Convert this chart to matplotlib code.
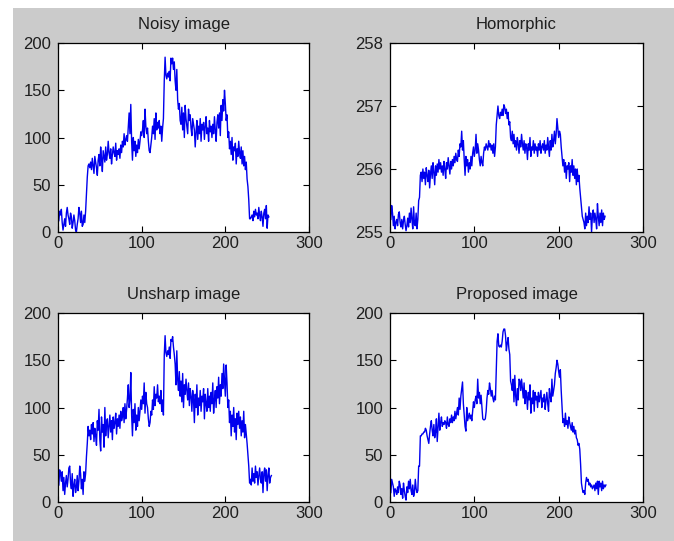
import numpy as np
import matplotlib
matplotlib.use("Agg")
import matplotlib.pyplot as plt
from matplotlib.patches import Rectangle

# ---------------- data ----------------
titles = ["Noisy image", "Homorphic", "Unsharp image", "Proposed image"]
x_ticks = [0, 100, 200, 300]
y_ticks_main = [0, 50, 100, 150, 200]
y_ticks_homo = [255, 256, 257, 258]

noisy = [
    12, 22, 18, 24, 10, 2, 8, 14, 6, 20, 26, 18,
    14, 8, 20, 16, 4, 10, 18, 12, 2, 0, 8, 14,
    26, 20, 10, 22, 6, 8, 18, 10, 22, 40, 58, 70,
    72, 68, 74, 66, 78, 70, 62, 80, 74, 68, 60, 76,
    82, 70, 90, 78, 64, 86, 80, 74, 90, 76, 82, 96,
    84, 78, 88, 72, 82, 90, 84, 80, 94, 76, 86, 82,
    88, 78, 92, 84, 96, 90, 104, 92, 98, 102, 96, 112,
    126, 104, 135, 96, 76, 100, 86, 96, 80, 92, 84, 98,
    88, 96, 106, 102, 108, 118, 100, 130, 112, 104, 110, 96,
    86, 84, 92, 100, 112, 104, 120, 98, 126, 108, 116, 110,
    118, 104, 112, 96, 110, 120, 160, 185, 166, 162, 168, 164,
    170, 160, 184, 178, 184, 172, 180, 160, 150, 172, 140, 130,
    136, 118, 114, 132, 108, 126, 100, 134, 120, 112, 104, 130,
    118, 124, 110, 102, 120, 114, 108, 90, 106, 118, 98, 112,
    104, 120, 96, 114, 108, 116, 98, 112, 122, 104, 110, 96,
    118, 106, 112, 100, 114, 104, 122, 108, 96, 116, 124, 110,
    126, 102, 134, 118, 140, 128, 150, 136, 118, 124, 100, 106,
    88, 96, 82, 100, 76, 90, 86, 94, 72, 88, 80, 96,
    84, 78, 90, 72, 86, 70, 80, 66, 74, 56, 48, 34,
    14, 14, 16, 18, 12, 22, 16, 24, 18, 20, 14, 26,
    18, 12, 22, 16, 6, 20, 24, 14, 28, 4, 18, 16,
]

homomorphic = [
    255.20, 255.42, 255.30, 255.10, 255.25, 255.05, 255.15, 255.20, 255.10, 255.28, 255.32, 255.15,
    255.08, 255.20, 255.05, 255.18, 255.25, 255.12, 255.02, 255.10, 255.22, 255.08, 255.30, 255.15,
    255.38, 255.20, 255.05, 255.40, 255.12, 255.10, 255.30, 255.05, 255.20, 255.50, 255.55, 255.90,
    255.95, 255.80, 256.00, 255.85, 255.95, 255.75, 256.02, 255.90, 255.80, 255.98, 255.70, 255.92,
    256.05, 255.85, 256.10, 255.95, 255.75, 256.05, 255.90, 256.08, 255.95, 256.15, 256.00, 256.10,
    255.95, 256.05, 255.90, 256.12, 256.00, 255.85, 256.10, 256.00, 256.18, 256.05, 255.92, 256.12,
    256.00, 256.15, 256.05, 256.20, 256.10, 256.25, 256.15, 256.12, 256.30, 256.20, 256.40, 256.35,
    256.60, 256.30, 256.45, 256.15, 255.90, 256.20, 256.05, 256.15, 255.95, 256.10, 256.00, 256.20,
    256.05, 256.25, 256.35, 256.20, 256.30, 256.55, 256.25, 256.40, 256.30, 256.15, 256.05, 256.20,
    256.10, 256.05, 256.25, 256.35, 256.30, 256.40, 256.35, 256.30, 256.45, 256.35, 256.40, 256.30,
    256.38, 256.25, 256.40, 256.20, 256.35, 256.70, 256.85, 257.00, 256.85, 256.80, 256.90, 256.85,
    256.95, 256.85, 257.02, 256.98, 256.88, 256.95, 256.80, 256.90, 256.70, 256.75, 256.50, 256.45,
    256.60, 256.40, 256.55, 256.35, 256.45, 256.30, 256.50, 256.40, 256.25, 256.45, 256.35, 256.55,
    256.40, 256.30, 256.45, 256.25, 256.40, 256.35, 256.15, 256.40, 256.30, 256.50, 256.20, 256.35,
    256.30, 256.45, 256.25, 256.40, 256.30, 256.35, 256.20, 256.40, 256.30, 256.45, 256.25, 256.35,
    256.40, 256.30, 256.45, 256.25, 256.38, 256.30, 256.50, 256.35, 256.20, 256.45, 256.30, 256.55,
    256.35, 256.45, 256.60, 256.40, 256.55, 256.80, 256.65, 256.50, 256.60, 256.55, 256.35, 256.20,
    256.05, 256.15, 255.95, 256.10, 255.85, 256.05, 256.00, 256.10, 255.80, 256.05, 255.95, 256.15,
    255.90, 256.05, 255.85, 256.00, 255.75, 256.00, 255.80, 255.90, 255.70, 255.55, 255.40, 255.25,
    255.20, 255.15, 255.05, 255.30, 255.10, 255.25, 255.15, 255.40, 255.20, 255.30, 255.00, 255.25,
    255.35, 255.15, 255.30, 255.20, 255.05, 255.45, 255.25, 255.10, 255.30, 255.15, 255.35, 255.10,
    255.30, 255.20, 255.25,
]

unsharp = [
    18, 34, 30, 22, 32, 12, 26, 8, 20, 28, 16, 24,
    36, 38, 20, 14, 30, 6, 18, 24, 10, 16, 28, 12,
    22, 38, 30, 14, 24, 8, 32, 22, 30, 48, 62, 80,
    70, 76, 66, 82, 72, 84, 64, 78, 70, 60, 86, 76,
    98, 66, 54, 90, 74, 82, 58, 100, 70, 84, 88, 68,
    80, 92, 74, 86, 66, 90, 78, 84, 94, 72, 88, 80,
    92, 78, 96, 86, 90, 100, 84, 104, 88, 98, 110, 124,
    100, 108, 137, 92, 70, 98, 84, 104, 76, 92, 80, 100,
    86, 96, 108, 98, 112, 104, 126, 94, 116, 104, 100, 88,
    80, 84, 96, 92, 108, 98, 122, 102, 114, 110, 124, 106,
    112, 104, 118, 96, 108, 92, 155, 176, 158, 154, 160, 156,
    164, 152, 172, 170, 175, 164, 156, 146, 124, 160, 130, 118,
    138, 112, 128, 106, 136, 100, 124, 114, 130, 118, 108, 126,
    102, 120, 112, 96, 118, 108, 84, 114, 100, 124, 92, 110,
    102, 118, 96, 112, 106, 120, 88, 114, 104, 96, 120, 100,
    112, 96, 116, 104, 126, 94, 108, 118, 100, 122, 110, 132,
    104, 124, 112, 136, 120, 146, 128, 112, 145, 126, 100, 108,
    84, 96, 70, 92, 80, 100, 74, 88, 66, 94, 82, 96,
    78, 90, 70, 86, 74, 96, 68, 82, 72, 62, 50, 38,
    20, 24, 18, 36, 22, 30, 20, 38, 26, 32, 18, 28,
    36, 24, 20, 32, 10, 30, 36, 22, 34, 12, 28, 36,
    20, 26, 28,
]

proposed = [
    10, 24, 20, 16, 6, 14, 12, 8, 16, 10, 22, 18,
    8, 14, 4, 20, 12, 6, 2, 16, 10, 22, 14, 24,
    12, 8, 18, 6, 10, 24, 14, 10, 12, 38, 38, 70,
    70, 72, 72, 74, 74, 78, 76, 70, 66, 62, 72, 80,
    86, 76, 70, 82, 68, 74, 88, 64, 80, 94, 76, 84,
    90, 80, 84, 82, 86, 84, 78, 90, 82, 80, 88, 84,
    92, 84, 90, 86, 96, 88, 94, 100, 92, 110, 98, 112,
    120, 127, 104, 92, 80, 75, 100, 86, 90, 94, 88, 92,
    86, 96, 106, 100, 108, 112, 104, 130, 110, 116, 104, 113,
    100, 88, 87, 87, 88, 96, 110, 118, 114, 126, 120, 112,
    118, 110, 106, 112, 108, 140, 170, 178, 165, 164, 166, 164,
    170, 180, 183, 183, 176, 160, 168, 174, 162, 156, 128, 124,
    118, 130, 106, 134, 112, 102, 120, 108, 130, 128, 118, 130,
    120, 110, 126, 104, 118, 112, 98, 116, 108, 124, 94, 110,
    104, 118, 96, 116, 108, 112, 100, 116, 106, 112, 118, 100,
    110, 106, 114, 98, 108, 116, 104, 96, 120, 112, 106, 130,
    112, 118, 124, 136, 142, 150, 146, 138, 132, 140, 118, 100,
    84, 88, 80, 94, 82, 86, 78, 90, 84, 80, 76, 84,
    74, 80, 72, 76, 68, 66, 60, 62, 56, 40, 20, 14,
    10, 12, 8, 20, 26, 22, 24, 18, 20, 16, 18, 14,
    16, 18, 12, 20, 14, 22, 8, 22, 16, 20, 12, 22,
    14, 18, 16, 18,
]

series = [noisy, homomorphic, unsharp, proposed]
y_limits = [(0, 200), (255, 258), (0, 200), (0, 200)]
y_tick_sets = [y_ticks_main, y_ticks_homo, y_ticks_main, y_ticks_main]

# ---------------- layout ----------------
W, H = 674, 541
plt.rcParams['font.family'] = ['Liberation Sans', 'DejaVu Sans']
fig = plt.figure(figsize=(W / 100, H / 100), dpi=100, facecolor='white')
bg = Rectangle((13 / W, 0), 1 - 13 / W, (H - 8) / H, transform=fig.transFigure,
               facecolor='#cbcbcb', edgecolor='none', zorder=-10)
fig.patches.append(bg)

# axes pixel boxes: (left, top, right, bottom)
boxes = [(58, 43, 309, 232), (390, 43, 643, 232),
         (58, 313, 309, 502), (390, 313, 643, 502)]

txt = '#1e1e1e'
for box, data, ttl, ylim, yt in zip(boxes, series, titles, y_limits, y_tick_sets):
    l, t, r, b = box
    ax = fig.add_axes([l / W, (H - b) / H, (r - l) / W, (b - t) / H])
    ax.set_facecolor('white')
    xs = np.arange(1, len(data) + 1)
    ax.plot(xs, data, color='#0000ee', lw=1.0)
    ax.set_xlim(0, 300)
    ax.set_ylim(*ylim)
    ax.set_xticks(x_ticks)
    ax.set_yticks(yt)
    ax.set_xticklabels([str(v) for v in x_ticks])
    ax.set_yticklabels([str(v) for v in yt])
    ax.tick_params(axis='both', direction='in', length=4, width=0.8,
                   top=True, right=True, labelsize=12, colors='black',
                   labelcolor=txt)
    ax.tick_params(axis='x', pad=3)
    ax.tick_params(axis='y', pad=5)
    for s in ax.spines.values():
        s.set_linewidth(0.9)
        s.set_color('black')
    ax.set_title(ttl, fontsize=12, color=txt, pad=10)

fig.savefig('out.png', dpi=100, facecolor=fig.get_facecolor())
